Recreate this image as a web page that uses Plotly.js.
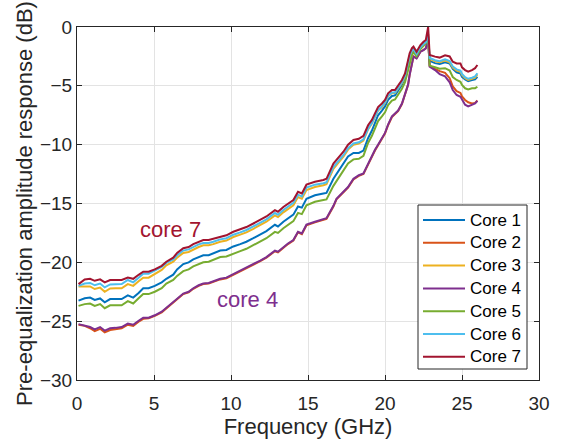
<!DOCTYPE html>
<html>
<head>
<meta charset="utf-8">
<script src="https://cdn.plot.ly/plotly-3.0.1.min.js"></script>
<style>html,body{margin:0;padding:0;background:#fff;}#chart{width:566px;height:447px;}</style>
</head>
<body>
<div id="chart"></div>
<script>
const freq = [0.1,0.5,0.85,1.15,1.5,1.8,2.15,2.5,2.9,3.3,3.65,4.0,4.3,4.65,5.05,5.5,5.8,6.25,6.5,6.9,7.25,7.55,7.9,8.2,8.55,8.85,9.3,9.7,10.15,10.6,11.0,11.45,11.9,12.3,12.85,13.05,13.4,13.7,14.05,14.35,14.6,14.9,15.45,16.0,16.2,16.65,16.85,17.3,17.6,17.95,18.3,18.6,18.9,19.15,19.35,19.55,19.8,20.0,20.2,20.45,20.65,20.85,21.1,21.3,21.5,21.6,21.75,21.85,22.05,22.3,22.5,22.65,22.8,22.9,23.25,23.55,23.9,24.2,24.4,24.65,24.9,25.0,25.2,25.4,25.65,25.85,26.0];

const core1 = [-23.25,-23.05,-23.0,-23.2,-23.07,-23.4,-23.12,-23.15,-23.12,-22.8,-23.0,-22.61,-22.2,-22.2,-22.0,-21.7,-21.4,-21.05,-20.6,-20.15,-20.0,-19.75,-19.55,-19.4,-19.4,-19.25,-19.0,-18.95,-18.65,-18.45,-18.25,-17.95,-17.6,-17.35,-16.81,-16.95,-16.55,-16.25,-15.95,-15.25,-15.35,-14.6,-14.3,-14.15,-14.1,-12.9,-12.5,-11.7,-11.0,-10.7,-10.7,-10.5,-9.45,-8.8,-8.14,-7.5,-7.1,-6.75,-6.19,-5.86,-5.81,-5.38,-4.9,-4.29,-3.25,-2.59,-2.15,-1.97,-2.4,-1.78,-1.45,-1.3,-0.8,-2.88,-3.07,-3.15,-3.0,-3.1,-3.55,-3.85,-3.95,-4.23,-4.46,-4.6,-4.51,-4.45,-4.23];

const core2 = [-25.3,-25.4,-25.6,-25.85,-25.65,-25.95,-25.75,-25.7,-25.6,-25.3,-25.4,-25.05,-24.8,-24.75,-24.55,-24.25,-23.9,-23.45,-23.1,-22.7,-22.55,-22.25,-22.0,-21.85,-21.8,-21.65,-21.45,-21.35,-21.05,-20.8,-20.55,-20.25,-19.9,-19.6,-19.06,-19.15,-18.75,-18.45,-18.15,-17.45,-17.6,-16.85,-16.6,-16.4,-16.3,-15.25,-14.65,-14.05,-13.65,-12.95,-12.65,-12.5,-11.7,-10.95,-10.5,-10.05,-9.55,-9.05,-8.35,-7.65,-7.4,-7.15,-6.55,-5.75,-4.9,-4.05,-2.95,-2.5,-2.65,-2.1,-1.95,-1.8,-1.1,-3.3,-3.55,-3.75,-3.9,-4.35,-5.05,-5.45,-5.6,-5.9,-6.2,-6.4,-6.5,-6.45,-6.25];

const core3 = [-22.05,-22.05,-22.05,-22.27,-22.15,-22.5,-22.22,-22.2,-22.2,-21.85,-22.0,-21.61,-21.3,-21.3,-21.0,-20.65,-20.25,-19.95,-19.6,-19.2,-19.12,-18.9,-18.7,-18.55,-18.55,-18.45,-18.25,-18.15,-17.85,-17.65,-17.45,-17.15,-16.8,-16.55,-16.01,-16.15,-15.75,-15.45,-15.15,-14.45,-14.6,-13.85,-13.6,-13.45,-13.35,-12.05,-11.75,-11.02,-10.42,-10.0,-9.9,-9.65,-8.7,-8.2,-7.64,-7.1,-6.8,-6.45,-5.89,-5.61,-5.61,-5.18,-4.75,-4.19,-3.2,-2.49,-2.05,-1.87,-2.35,-1.73,-1.45,-1.3,-0.6,-2.73,-2.92,-3.0,-2.85,-3.0,-3.45,-3.7,-3.8,-4.08,-4.36,-4.5,-4.41,-4.3,-4.03];

const core4 = [-25.25,-25.35,-25.5,-25.7,-25.5,-25.8,-25.6,-25.57,-25.5,-25.2,-25.3,-24.96,-24.7,-24.7,-24.5,-24.2,-23.85,-23.4,-23.05,-22.65,-22.5,-22.2,-21.95,-21.8,-21.75,-21.6,-21.4,-21.3,-21.0,-20.75,-20.5,-20.2,-19.85,-19.55,-19.01,-19.1,-18.7,-18.4,-18.1,-17.4,-17.55,-16.8,-16.55,-16.35,-16.25,-15.2,-14.6,-14.0,-13.6,-12.9,-12.6,-12.45,-11.65,-10.9,-10.44,-10.0,-9.5,-9.0,-8.3,-7.6,-7.35,-7.1,-6.5,-5.7,-4.9,-4.08,-2.95,-2.52,-2.66,-2.1,-1.96,-1.81,-1.0,-3.37,-3.66,-4.0,-4.2,-4.7,-5.36,-5.78,-5.93,-6.2,-6.6,-6.75,-6.63,-6.5,-6.27];

const core5 = [-23.7,-23.55,-23.5,-23.7,-23.55,-23.9,-23.65,-23.65,-23.65,-23.3,-23.5,-23.06,-22.7,-22.7,-22.5,-22.2,-21.8,-21.5,-21.15,-20.75,-20.6,-20.35,-20.15,-20.0,-19.95,-19.8,-19.55,-19.5,-19.25,-19.05,-18.85,-18.55,-18.2,-17.95,-17.41,-17.5,-17.1,-16.8,-16.5,-15.8,-15.9,-15.15,-14.85,-14.7,-14.65,-13.5,-13.1,-12.3,-11.6,-11.25,-11.2,-10.95,-9.85,-9.25,-8.64,-8.0,-7.6,-7.25,-6.64,-6.26,-6.16,-5.73,-5.25,-4.69,-3.7,-3.04,-2.4,-2.12,-2.5,-1.88,-1.55,-1.4,-1.0,-3.28,-3.42,-3.55,-3.5,-3.7,-4.25,-4.5,-4.65,-4.93,-5.21,-5.3,-5.21,-5.2,-5.08];

const core6 = [-22.0,-21.8,-21.75,-21.95,-21.8,-22.13,-21.88,-21.85,-21.85,-21.5,-21.7,-21.3,-20.97,-20.97,-20.7,-20.4,-20.05,-19.75,-19.4,-19.0,-18.9,-18.67,-18.47,-18.35,-18.35,-18.25,-18.05,-17.95,-17.65,-17.45,-17.25,-16.95,-16.6,-16.35,-15.81,-15.95,-15.55,-15.25,-14.95,-14.25,-14.4,-13.65,-13.4,-13.28,-13.2,-11.9,-11.6,-10.9,-10.3,-9.9,-9.8,-9.55,-8.65,-8.15,-7.59,-7.05,-6.75,-6.4,-5.84,-5.56,-5.56,-5.13,-4.7,-4.14,-3.15,-2.44,-2.0,-1.87,-2.3,-1.73,-1.45,-1.3,-0.6,-2.63,-2.82,-2.9,-2.75,-2.9,-3.35,-3.6,-3.7,-3.98,-4.26,-4.4,-4.31,-4.2,-3.93];

const core7 = [-21.85,-21.45,-21.4,-21.57,-21.45,-21.7,-21.5,-21.5,-21.5,-21.3,-21.4,-21.06,-20.8,-20.8,-20.6,-20.3,-19.95,-19.6,-19.2,-18.8,-18.7,-18.45,-18.25,-18.1,-18.1,-18.0,-17.8,-17.7,-17.4,-17.2,-17.0,-16.7,-16.35,-16.1,-15.56,-15.7,-15.3,-15.0,-14.7,-14.0,-14.15,-13.4,-13.15,-13.0,-12.9,-11.6,-11.3,-10.6,-10.0,-9.6,-9.5,-9.25,-8.35,-7.9,-7.34,-6.8,-6.5,-6.2,-5.64,-5.36,-5.36,-4.93,-4.5,-3.94,-2.95,-2.24,-1.8,-1.67,-2.1,-1.53,-1.25,-1.1,0,-2.38,-2.52,-2.6,-2.4,-2.5,-2.95,-3.1,-3.1,-3.43,-3.66,-3.8,-3.66,-3.5,-3.23];

const seriesNames = ['Core 1','Core 2','Core 3','Core 4','Core 5','Core 6','Core 7'];
const seriesColors = ['#0072BD','#D95319','#EDB120','#7E2F8E','#77AC30','#4DBEEE','#A2142F'];
const seriesData = [core1, core2, core3, core4, core5, core6, core7];

const xTicks = [0,5,10,15,20,25,30];
const yTicks = [-30,-25,-20,-15,-10,-5,0];
const fmt = v => (v < 0 ? '\u2212' + Math.abs(v) : String(v));

const FONT = 'Arial, "Liberation Sans", sans-serif';

const traces = seriesData.map((ys, i) => ({
  x: freq, y: ys, type: 'scatter', mode: 'lines', name: seriesNames[i],
  line: {color: seriesColors[i], width: 2},
  showlegend: false
}));

// Legend box drawn in paper coordinates (MATLAB-style compact legend)
const W = 462, H = 353; // plot area size in px
const px2x = p => (p - 77) / W;
const py2y = p => (380 - p) / H;
const shapes = [{
  type: 'rect', xref: 'paper', yref: 'paper',
  x0: px2x(418), x1: px2x(527), y0: py2y(369), y1: py2y(205),
  fillcolor: '#ffffff', line: {color: '#262626', width: 1}, layer: 'above'
}];
const annotations = [];
seriesNames.forEach((name, i) => {
  const yc = py2y(220 + 22.8 * i);
  shapes.push({type: 'line', xref: 'paper', yref: 'paper', x0: px2x(423), x1: px2x(465), y0: yc, y1: yc,
    line: {color: seriesColors[i], width: 2}, layer: 'above'});
  annotations.push({xref: 'paper', yref: 'paper', x: px2x(468), y: yc, xanchor: 'left', yanchor: 'middle',
    text: name, showarrow: false, font: {family: FONT, size: 17, color: '#000000'}});
});
annotations.push(
  {x: 6.04, y: -17.19, xref: 'x', yref: 'y', text: 'core 7', showarrow: false,
   font: {family: FONT, size: 22, color: '#A2142F'}, xanchor: 'center', yanchor: 'middle'},
  {x: 11.05, y: -23.19, xref: 'x', yref: 'y', text: 'core 4', showarrow: false,
   font: {family: FONT, size: 22, color: '#7E2F8E'}, xanchor: 'center', yanchor: 'middle'}
);

const axisCommon = {
  showline: true, linecolor: '#262626', linewidth: 1, mirror: 'allticks',
  ticks: 'inside', ticklen: 5, tickcolor: '#262626', tickwidth: 1,
  showgrid: true, gridcolor: '#e3e3e3', gridwidth: 1, zeroline: false,
  tickfont: {family: FONT, size: 19, color: '#262626'},
  tickmode: 'array'
};

const layout = {
  width: 566, height: 447,
  margin: {l: 77, r: 27, t: 27, b: 67},
  paper_bgcolor: '#ffffff', plot_bgcolor: '#ffffff',
  font: {family: FONT, color: '#262626'},
  showlegend: false,
  xaxis: Object.assign({}, axisCommon, {
    range: [0, 30], tickvals: xTicks, ticktext: xTicks.map(fmt),
    title: {text: 'Frequency (GHz)', font: {family: FONT, size: 22, color: '#262626'}, standoff: 3},
    ticklabelstandoff: 6
  }),
  yaxis: Object.assign({}, axisCommon, {
    range: [-30, 0], tickvals: yTicks, ticktext: yTicks.map(fmt),
    title: {text: 'Pre-equalization amplitude response (dB)', font: {family: FONT, size: 22, color: '#262626'}, standoff: 1}
  }),
  shapes: shapes,
  annotations: annotations
};

Plotly.newPlot('chart', traces, layout, {displayModeBar: false, staticPlot: true});
</script>
</body>
</html>
